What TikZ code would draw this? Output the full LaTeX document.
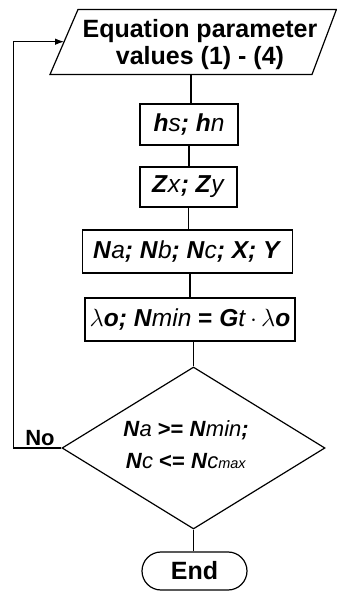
\documentclass[tikz,border=0pt]{standalone}
\usepackage{fontspec}
\setmainfont{Liberation Sans}
\usetikzlibrary{arrows.meta,shapes.geometric,shapes.misc}
\newcommand\bvar[1]{\textbf{\textit{#1}}}
\newcommand\lvar[1]{\textmd{\textit{#1}}}
\begin{document}
\begin{tikzpicture}[x=1pt,y=1pt,line width=1.2pt,
  proc/.style={draw,rectangle,inner sep=0pt,font=\fontsize{24.5}{28}\selectfont},
  cond/.style={font=\fontsize{22}{32}\selectfont,align=center,inner sep=0pt},
  arr/.style={-{Latex[length=9pt,width=6.5pt]}}]
\useasboundingbox (0,0) rectangle (337,592);
% input parallelogram
\coordinate (pTL) at (78,582.5);
\coordinate (pTR) at (336.4,582.5);
\coordinate (pBR) at (312,517.5);
\coordinate (pBL) at (50,517.5);
\draw (pTL) -- (pTR) -- (pBR) -- (pBL) -- cycle;
\node[font=\bfseries\fontsize{25}{27}\selectfont,align=center,inner sep=0pt] (input) at (200,547)
  {Equation parameter\\values (1) - (4)};
\coordinate (inout) at (191,517.5);
\coordinate (inin) at (64.1,550.3);
% process boxes
\node[proc,minimum width=98pt,minimum height=41pt] (b1) at (189,467.5)
  {\bvar{h}\lvar{s}\bvar{; h}\lvar{n}};
\node[proc,minimum width=97pt,minimum height=40pt] (b2) at (188.5,405)
  {\bvar{Z}\lvar{x}\bvar{; Z}\lvar{y}};
\node[proc,minimum width=210pt,minimum height=43pt] (b3) at (187.3,340.5)
  {\bvar{N}\lvar{a}\bvar{; N}\lvar{b}\bvar{; N}\lvar{c}\bvar{; X; Y}};
\node[proc,minimum width=210pt,minimum height=43pt] (b4) at (190,272.5)
  {$\lambda$\bvar{o; N}\lvar{min}\textbf{ = }\bvar{G}\lvar{t}\,$\cdot$\,$\lambda$\bvar{o}};
% decision
\node[draw,diamond,inner sep=0pt,minimum width=263pt,minimum height=162pt] (d) at (193.5,144) {};
\node[cond] (dtext) at (186,147)
  {\bvar{N}\lvar{a}\textbf{ >= }\bvar{N}\lvar{min}\bvar{;}\\
   \bvar{N}\lvar{c}\textbf{ <= }\bvar{N}\lvar{c}{\fontsize{14.5}{14.5}\selectfont\lvar{max}}};
% end
\node[draw,rounded rectangle,inner sep=0pt,minimum width=105pt,minimum height=38pt,
  font=\bfseries\fontsize{25}{28}\selectfont] (end) at (194.5,21) {End};
% connectors
\draw (inout) -- (inout |- b1.north);
\draw (b1.south) -- (b1.south |- b2.north);
\draw (b2.south) -- (b2.south |- b3.north);
\draw (b4.north |- b3.south) -- (b4.north);
\draw (b4.south -| d.north) -- (d.north);
\draw (d.south) -- (d.south |- end.north);
% feedback loop
\coordinate (fb1) at (13.3,144);
\coordinate (fb2) at (13.3,550.3);
\draw[arr] (d.west) -- (fb1) -- (fb2) -- (inin);
\node[font=\bfseries\fontsize{22}{24}\selectfont,inner sep=0pt] (no) at (40,154) {No};
\end{tikzpicture}
\end{document}
